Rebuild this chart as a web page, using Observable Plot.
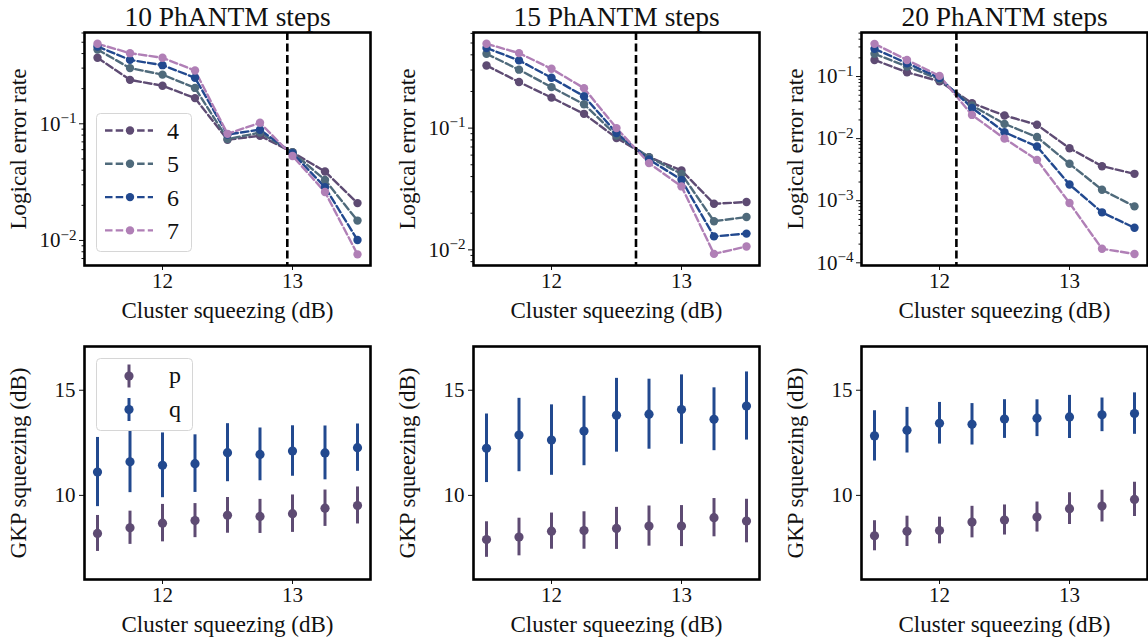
<!DOCTYPE html>
<html><head><meta charset="utf-8">
<script src="https://cdn.jsdelivr.net/npm/d3@7"></script>
<script src="https://cdn.jsdelivr.net/npm/@observablehq/plot@0.6"></script>
<style>
body{margin:0;background:#fff;overflow:hidden}
#root{position:relative;width:1148px;height:640px;overflow:hidden;font-family:"Liberation Serif",serif}
.panel{position:absolute}
.panel text{font-family:"Liberation Serif","DejaVu Serif",serif}
.legend{position:absolute;overflow:visible}
</style></head><body><div id="root"></div>
<script>
// ---------------- data ----------------
const clusterDB = [11.5, 11.75, 12, 12.25, 12.5, 12.75, 13, 13.25, 13.5];
const titles = ["10 PhANTM steps", "15 PhANTM steps", "20 PhANTM steps"];
const distances = ["4", "5", "6", "7"];
const distColors = ["#5e4b73", "#4f6a7b", "#22498f", "#b07fb6"];
const thresholds = [12.96, 12.65, 12.13];
const xTicks = [12, 13];
const xLabel = "Cluster squeezing (dB)";
const lerLabel = "Logical error rate";
const gkpLabel = "GKP squeezing (dB)";

// logical error rate, 10 steps
const ler10_d4 = [0.368, 0.238, 0.212, 0.166, 0.073, 0.079, 0.057, 0.039, 0.0209];
const ler10_d5 = [0.433, 0.300, 0.264, 0.203, 0.074, 0.084, 0.057, 0.033, 0.0148];
const ler10_d6 = [0.460, 0.353, 0.318, 0.248, 0.081, 0.089, 0.056, 0.0286, 0.0101];
const ler10_d7 = [0.485, 0.403, 0.368, 0.286, 0.082, 0.102, 0.053, 0.026, 0.0076];
// 15 steps
const ler15_d4 = [0.327, 0.239, 0.178, 0.131, 0.083, 0.0578, 0.0449, 0.0239, 0.0247];
const ler15_d5 = [0.408, 0.302, 0.217, 0.157, 0.087, 0.0578, 0.042, 0.0172, 0.0186];
const ler15_d6 = [0.455, 0.360, 0.259, 0.183, 0.091, 0.0553, 0.0376, 0.0129, 0.0136];
const ler15_d7 = [0.493, 0.413, 0.307, 0.213, 0.100, 0.0516, 0.0332, 0.00927, 0.01065];
// 20 steps
const ler20_d4 = [0.185, 0.117, 0.084, 0.0372, 0.0236, 0.0167, 0.00701, 0.0036, 0.00271];
const ler20_d5 = [0.232, 0.145, 0.0906, 0.0341, 0.0173, 0.0106, 0.00393, 0.0015, 0.00081];
const ler20_d6 = [0.279, 0.164, 0.095, 0.0313, 0.0127, 0.00746, 0.00182, 0.00065, 0.000366];
const ler20_d7 = [0.336, 0.185, 0.1025, 0.0241, 0.0100, 0.00455, 0.00092, 0.000168, 0.000139];

const lerDomains = [[0.0061, 0.606], [0.00744, 0.61], [0.0000905, 0.512]];
const lerTicks = [[0.01, 0.1], [0.01, 0.1], [0.0001, 0.001, 0.01, 0.1]];

// GKP squeezing (centre and half error) for p and q
const gkp10_p = [8.19, 8.46, 8.68, 8.80, 9.05, 9.00, 9.13, 9.39, 9.52];
const gkp10_pErr = [0.855, 0.79, 0.89, 0.81, 0.85, 0.81, 0.89, 0.865, 0.88];
const gkp10_q = [11.11, 11.60, 11.43, 11.51, 12.03, 11.95, 12.11, 12.02, 12.27];
const gkp10_qErr = [1.645, 1.47, 1.54, 1.37, 1.38, 1.255, 1.2, 1.28, 1.125];
const gkp15_p = [7.90, 8.02, 8.30, 8.33, 8.43, 8.54, 8.54, 8.94, 8.78];
const gkp15_pErr = [0.845, 0.895, 0.86, 0.89, 1.0, 0.955, 0.975, 0.91, 1.035];
const gkp15_q = [12.24, 12.87, 12.63, 13.06, 13.81, 13.86, 14.08, 13.62, 14.25];
const gkp15_qErr = [1.63, 1.745, 1.675, 1.65, 1.755, 1.665, 1.65, 1.495, 1.62];
const gkp20_p = [8.08, 8.29, 8.33, 8.73, 8.83, 8.97, 9.37, 9.49, 9.81];
const gkp20_pErr = [0.715, 0.72, 0.635, 0.75, 0.715, 0.715, 0.755, 0.755, 0.815];
const gkp20_q = [12.83, 13.10, 13.43, 13.38, 13.63, 13.67, 13.73, 13.83, 13.89];
const gkp20_qErr = [1.195, 1.085, 0.99, 0.985, 0.92, 0.875, 1.025, 0.8, 0.985];

const quadratures = ["p", "q"];
const quadColors = ["#5e4b73", "#22498f"];
const gkpDomain = [6.0, 17.08];
const gkpTicks = [10, 15];
const xDomain = [11.4, 13.6];

const lerSets = [
  [ler10_d4, ler10_d5, ler10_d6, ler10_d7],
  [ler15_d4, ler15_d5, ler15_d6, ler15_d7],
  [ler20_d4, ler20_d5, ler20_d6, ler20_d7]
];
const gkpSets = [
  [[gkp10_p, gkp10_pErr], [gkp10_q, gkp10_qErr]],
  [[gkp15_p, gkp15_pErr], [gkp15_q, gkp15_qErr]],
  [[gkp20_p, gkp20_pErr], [gkp20_q, gkp20_qErr]]
];

// ---------------- layout ----------------
const FONT = '"Liberation Serif", "DejaVu Serif", serif';
const TICK_FS = 21, LABEL_FS = 23, TITLE_FS = 27.5, LEG_FS = 24;
const W = 286, H = 233, ML = 84, MT = 40, MR = 6, MB = 70;
const frameLefts = [84, 472.5, 861];
const rowTops = [32, 345.5];
const root = document.getElementById("root");
const supDigits = {"-1":"−1","-2":"−2","-3":"−3","-4":"−4"};

function place(svg, i, row) {
  svg.classList.add("panel");
  svg.style.left = (frameLefts[i] - ML) + "px";
  svg.style.top = (rowTops[row] - MT) + "px";
  root.appendChild(svg);
}

function commonStyle() {
  return {fontFamily: FONT, fontSize: TICK_FS + "px", color: "#111", background: "transparent", overflow: "visible"};
}

function xAxis() {
  return Plot.axisX({ticks: xTicks, tickSize: 5, tickPadding: 3, tickFormat: d => String(d),
    label: null, fontSize: TICK_FS, fontFamily: FONT});
}
function xLabelMark() {
  return Plot.text([xLabel], {text: d => d, frameAnchor: "bottom", lineAnchor: "middle", dy: 45,
    fontSize: LABEL_FS, fontFamily: FONT, fill: "#111"});
}
function yLabelMark(label) {
  return Plot.text([label], {text: d => d, frameAnchor: "left", textAnchor: "middle", lineAnchor: "middle",
    dx: -66, rotate: -90, fontSize: LABEL_FS, fontFamily: FONT, fill: "#111"});
}

function topPanel(i) {
  const data = [];
  distances.forEach((d, k) => lerSets[i][k].forEach((v, j) => data.push({x: clusterDB[j], y: v, d})));
  const dom = lerDomains[i];
  const lo = Math.floor(Math.log10(dom[0])), hi = Math.ceil(Math.log10(dom[1]));
  const minor = [];
  for (let e = lo; e < hi; e++) for (let m = 2; m <= 9; m++) {
    const v = m * Math.pow(10, e);
    if (v >= dom[0] && v <= dom[1]) minor.push(v);
  }
  const svg = Plot.plot({
    width: ML + W + MR, height: MT + H + MB,
    marginLeft: ML, marginRight: MR, marginTop: MT, marginBottom: MB,
    style: commonStyle(),
    x: {domain: xDomain},
    y: {type: "log", domain: dom},
    color: {domain: distances, range: distColors},
    marks: [
      Plot.line(data, {x: "x", y: "y", z: "d", stroke: "d", strokeWidth: 2.4, strokeDasharray: "7.5,3.2"}),
      Plot.dot(data, {x: "x", y: "y", fill: "d", r: 4.2}),
      Plot.ruleX([thresholds[i]], {stroke: "black", strokeWidth: 2.6, strokeDasharray: "8,3.5"}),
      xAxis(),
      Plot.axisY({ticks: lerTicks[i], tickSize: 5, tickPadding: 3,
        tickFormat: d => "10^" + Math.round(Math.log10(d)), label: null, fontSize: TICK_FS, fontFamily: FONT}),
      Plot.axisY({ticks: minor, tickSize: 2.5, tickFormat: () => "", label: null}),
      Plot.frame({stroke: "black", strokeWidth: 2.6}),
      Plot.text([titles[i]], {text: d => d, frameAnchor: "top", dy: -15.5, lineAnchor: "middle",
        fontSize: TITLE_FS, fontFamily: FONT, fill: "#111"}),
      xLabelMark(),
      yLabelMark(lerLabel)
    ]
  });
  // superscript exponents
  d3.select(svg).selectAll('g[aria-label="y-axis tick label"] text').each(function () {
    const t = this.textContent;
    if (t.indexOf("^") < 0) return;
    const [base, ex] = t.split("^");
    const sel = d3.select(this);
    sel.text("");
    sel.append("tspan").text(base);
    sel.append("tspan").attr("dy", "-0.5em").attr("font-size", "0.72em").text(supDigits[ex] || ex);
  });
  place(svg, i, 0);
}

function bottomPanel(i) {
  const data = [];
  quadratures.forEach((s, k) => {
    const [c, e] = gkpSets[i][k];
    c.forEach((v, j) => data.push({x: clusterDB[j], y: v, lo: v - e[j], hi: v + e[j], s}));
  });
  const svg = Plot.plot({
    width: ML + W + MR, height: MT + H + MB,
    marginLeft: ML, marginRight: MR, marginTop: MT, marginBottom: MB,
    style: commonStyle(),
    x: {domain: xDomain},
    y: {domain: gkpDomain},
    color: {domain: quadratures, range: quadColors},
    marks: [
      Plot.ruleX(data, {x: "x", y1: "lo", y2: "hi", stroke: "s", strokeWidth: 3}),
      Plot.dot(data, {x: "x", y: "y", fill: "s", r: 4.6}),
      xAxis(),
      Plot.axisY({ticks: gkpTicks, tickSize: 5, tickPadding: 4, tickFormat: d => String(d),
        label: null, fontSize: TICK_FS, fontFamily: FONT}),
      Plot.frame({stroke: "black", strokeWidth: 2.6}),
      xLabelMark(),
      yLabelMark(gkpLabel)
    ]
  });
  place(svg, i, 1);
}

[0, 1, 2].forEach(topPanel);
[0, 1, 2].forEach(bottomPanel);

// ---------------- legends ----------------
function legendBox(left, top, w, h) {
  const svg = d3.create("svg").attr("class", "legend").attr("width", w + 2).attr("height", h + 2)
    .style("left", (left - 1) + "px").style("top", (top - 1) + "px");
  svg.append("rect").attr("x", 0.5).attr("y", 0.5).attr("width", w).attr("height", h).attr("rx", 4)
    .attr("fill", "rgba(255,255,255,0.8)").attr("stroke", "#d6d6d6");
  root.appendChild(svg.node());
  return svg;
}
// distance legend (top-left panel)
{
  const svg = legendBox(96.5, 113.5, 95, 138);
  distances.forEach((d, k) => {
    const cy = 17.5 + k * 33.3;
    const g = svg.append("g").attr("transform", `translate(0,${cy})`);
    g.append("line").attr("x1", 9).attr("x2", 57).attr("y1", 0).attr("y2", 0)
      .attr("stroke", distColors[k]).attr("stroke-width", 2.4).attr("stroke-dasharray", "7.5,3.2");
    g.append("circle").attr("cx", 34).attr("cy", 0).attr("r", 4.2).attr("fill", distColors[k]);
    g.append("text").attr("x", 77).attr("y", 0).attr("dy", "0.35em").attr("text-anchor", "middle")
      .attr("font-family", FONT).attr("font-size", LEG_FS).attr("fill", "#111").text(d);
  });
}
// quadrature legend (bottom-left panel)
{
  const svg = legendBox(96.5, 358.5, 96, 72);
  quadratures.forEach((s, k) => {
    const cy = 18 + k * 33.5;
    const g = svg.append("g").attr("transform", `translate(0,${cy})`);
    g.append("line").attr("x1", 33).attr("x2", 33).attr("y1", -11.5).attr("y2", 11.5)
      .attr("stroke", quadColors[k]).attr("stroke-width", 3);
    g.append("circle").attr("cx", 33).attr("cy", 0).attr("r", 4.6).attr("fill", quadColors[k]);
    g.append("text").attr("x", 79).attr("y", 0).attr("dy", "0.3em").attr("text-anchor", "middle")
      .attr("font-family", FONT).attr("font-size", LEG_FS).attr("fill", "#111").text(s);
  });
}
</script></body></html>
